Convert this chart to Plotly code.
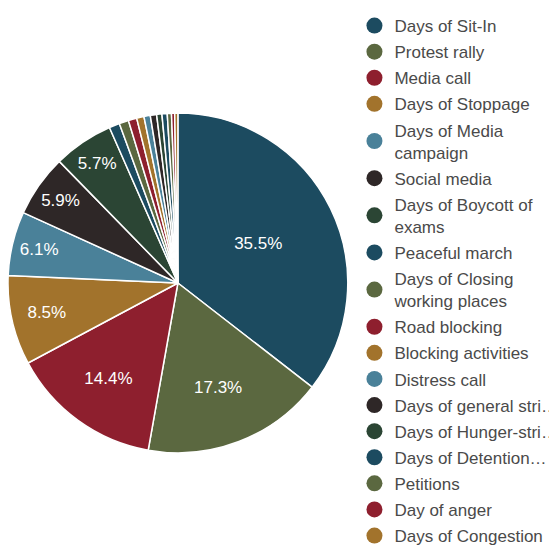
import plotly.graph_objects as go

labels = [
    'Days of Sit-In', 'Protest rally', 'Media call', 'Days of Stoppage',
    'Days of Media<br>campaign', 'Social media', 'Days of Boycott of<br>exams',
    'Peaceful march', 'Days of Closing<br>working places', 'Road blocking',
    'Blocking activities', 'Distress call', 'Days of general stri…',
    'Days of Hunger-stri…', 'Days of Detention…', 'Petitions',
    'Day of anger', 'Days of Congestion'
]
values = [35.5, 17.3, 14.4, 8.5, 6.1, 5.9, 5.7,
          1.0, 0.9, 0.8, 0.7, 0.6, 0.6, 0.5, 0.5, 0.4, 0.3, 0.3]

palette = ['#1c4b60', '#5b6840', '#8e1f2e', '#a2732c', '#4a8199', '#2e2727', '#2b4534']
colors = [palette[i % len(palette)] for i in range(len(labels))]

fig = go.Figure()

fig.add_trace(go.Pie(
    labels=labels,
    values=values,
    sort=False,
    direction='clockwise',
    rotation=0,
    marker=dict(colors=colors, line=dict(color='white', width=1.5)),
    texttemplate='%{percent:.1%}',
    textposition='inside',
    insidetextorientation='horizontal',
    textfont=dict(color='white', size=17, family='Liberation Sans, Arial'),
    domain=dict(x=[0.0, 0.61], y=[0.185, 0.815]),
    showlegend=False,
    hoverinfo='label+percent'
))

# circle markers for the legend
for i, lab in enumerate(labels):
    fig.add_trace(go.Scatter(
        x=[None], y=[None],
        mode='markers',
        marker=dict(size=16, color=colors[i]),
        name=lab,
        legendgroup=str(i),
        showlegend=True
    ))

fig.update_layout(
    width=557, height=550,
    margin=dict(l=0, r=0, t=0, b=0),
    paper_bgcolor='white',
    plot_bgcolor='white',
    xaxis=dict(visible=False),
    yaxis=dict(visible=False),
    uniformtext=dict(minsize=13, mode='hide'),
    legend=dict(
        x=0.622, y=1, xanchor='left', yanchor='top',
        traceorder='grouped',
        tracegroupgap=1,
        itemsizing='trace',
        font=dict(family='Liberation Sans, Arial', size=17, color='#4a4a4a')
    )
)

fig.write_html("out.html")
